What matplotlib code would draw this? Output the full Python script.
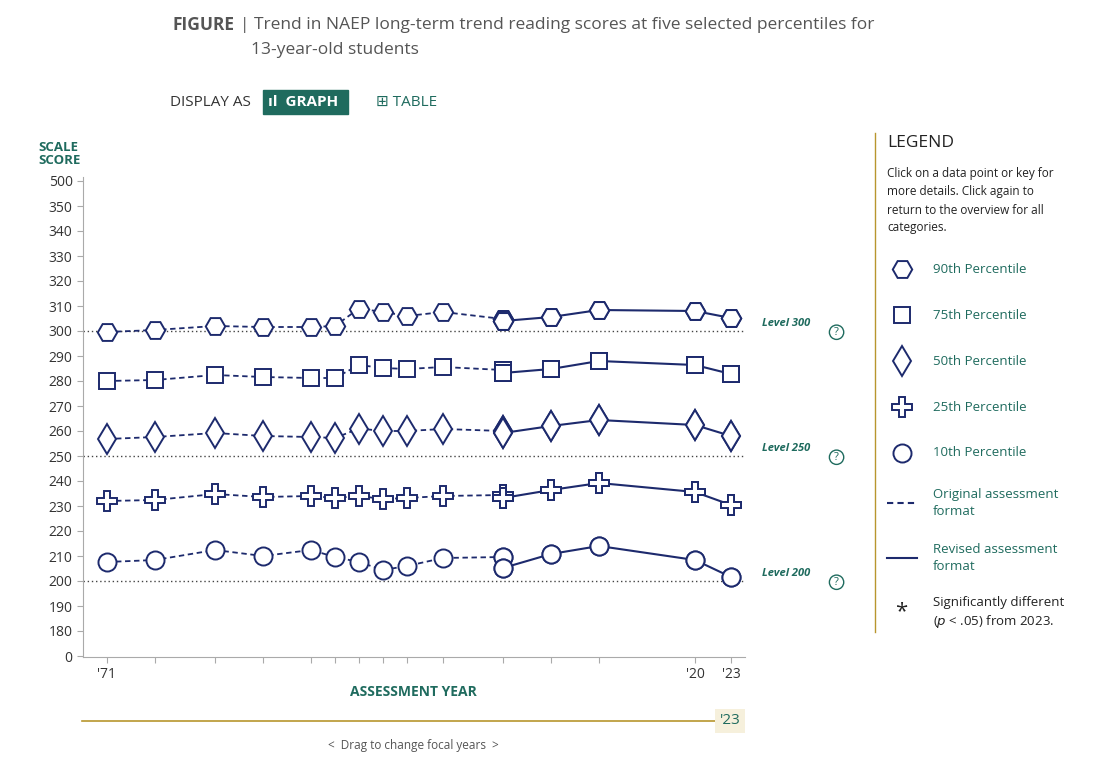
import matplotlib.pyplot as plt
from matplotlib.lines import Line2D

plt.rcParams['font.family'] = ['Open Sans', 'DejaVu Sans']

years = [1971, 1975, 1980, 1984, 1988, 1990, 1992, 1994, 1996, 1999, 2004, 2004, 2008, 2012, 2020, 2023]
n_orig = 11  # first 11 points are the original format, the rest revised
p90 = [299.6, 300.4, 302, 301.6, 301.6, 302, 309, 307.6, 306, 307.6, 304.8, 304, 305.6, 308.4, 308, 305.2]
p75 = [280, 280.4, 282.4, 281.6, 281.2, 281.2, 286.4, 285.2, 284.8, 285.6, 284.4, 283.2, 284.8, 288, 286.4, 282.8]
p50 = [256.8, 257.6, 259.2, 258, 257.6, 257.2, 261, 260, 260, 260.8, 260, 259.2, 262, 264.4, 262.4, 258]
p25 = [232, 232.4, 234.8, 233.6, 234, 233.2, 234, 232.8, 233.2, 234, 234.4, 233.2, 236.4, 239.2, 235.6, 230.4]
p10 = [207.6, 208.4, 212.4, 210, 212.4, 209.6, 207.6, 204.4, 206, 209.2, 209.6, 205.2, 210.8, 214, 208.4, 201.6]
series = [(p90, 'H', 14), (p75, 's', 12), (p50, 'd', 15), (p25, 'P', 15), (p10, 'o', 13)]
tick_years = [1971, 1975, 1980, 1984, 1988, 1990, 1992, 1994, 1996, 1999, 2004, 2008, 2012, 2020, 2023]
yticks = list(range(180, 351, 10))

navy = '#1d2a6d'
teal = '#1f6b5e'
W, H = 1102, 767
fig = plt.figure(figsize=(W / 100, H / 100), dpi=100)

def fx(p): return p / W
def fy(p): return 1 - p / H

ax = fig.add_axes([fx(83), fy(657), fx(745 - 83), (657 - 177) / H])
ax.set_xlim(1969, 2024.17)
ax.set_ylim(169.6, 361.6)
for lvl in (200, 250, 300):
    ax.axhline(lvl, color='#444', lw=1, ls=(0, (1, 2)))
for vals, m, ms in series:
    ax.plot(years[:n_orig], vals[:n_orig], color=navy, ls=(0, (3, 2)), lw=1.3,
            marker=m, ms=ms, mfc='white', mec=navy, mew=1.4)
    ax.plot(years[n_orig - 1:], vals[n_orig - 1:], color=navy, lw=1.5,
            marker=m, ms=ms, mfc='white', mec=navy, mew=1.4)
    ax.plot(years[n_orig:], vals[n_orig:], ls='none',
            marker=m, ms=ms, mfc='white', mec=navy, mew=1.4)
ax.set_yticks([170] + yticks + [360])
ax.set_yticklabels(['0'] + [str(v) for v in yticks] + ['500'], fontsize=10, color='#333')
ax.set_xticks(tick_years)
ax.set_xticklabels(["'71" if y == 1971 else ("'20" if y == 2020 else ("'23" if y == 2023 else ''))
                    for y in tick_years], fontsize=10, color='#333')
ax.tick_params(length=4, color='#aaa')
for s in ('top', 'right'):
    ax.spines[s].set_visible(False)
ax.spines['left'].set_color('#aaa')
ax.spines['bottom'].set_color('#aaa')
for lvl, lab in ((300, 'Level 300'), (250, 'Level 250'), (200, 'Level 200')):
    ax.text(2029.6, lvl + 0.8, lab, fontsize=8, style='italic', weight='bold', color=teal,
            ha='right', va='bottom', clip_on=False)
    ax.text(2031.8, lvl - 0.5, '?', fontsize=8, color=teal, ha='center', va='center', clip_on=False,
            bbox=dict(boxstyle='circle,pad=0.15', fc='white', ec=teal))

fig.text(fx(172), fy(25), 'FIGURE', fontsize=12.5, weight='bold', color='#555', va='center')
fig.text(fx(240), fy(25), '| Trend in NAEP long-term trend reading scores at five selected percentiles for',
         fontsize=12.5, color='#555', va='center')
fig.text(fx(251), fy(50), '13-year-old students', fontsize=12.5, color='#555', va='center')
fig.text(fx(170), fy(102), 'DISPLAY AS', fontsize=11, color='#333', va='center')
fig.text(fx(268), fy(102), 'ıl  GRAPH ', fontsize=11, weight='bold', color='white', va='center',
         bbox=dict(boxstyle='square,pad=0.35', fc=teal, ec=teal))
fig.text(fx(376), fy(102), '⊞ TABLE', fontsize=11, color=teal, va='center')
fig.text(fx(38), fy(154), 'SCALE\nSCORE', fontsize=9.5, weight='bold', color=teal, va='center', linespacing=1.0)
fig.text(fx(350), fy(692), 'ASSESSMENT YEAR', fontsize=10, weight='bold', color=teal, va='center')

fig.add_artist(Line2D([fx(875), fx(875)], [fy(133), fy(632)], color='#b8962e', lw=1))
fig.add_artist(Line2D([fx(82), fx(715)], [fy(721), fy(721)], color='#b8962e', lw=1.2))
fig.text(fx(730), fy(721), "'23", fontsize=11, color=teal, ha='center', va='center',
         bbox=dict(boxstyle='square,pad=0.3', fc='#f6f0dc', ec='none'))
fig.text(fx(413), fy(745), '<  Drag to change focal years  >', fontsize=8.5, color='#555', ha='center', va='center')

fig.text(fx(887), fy(143), 'LEGEND', fontsize=12.5, color='#222', va='center')
fig.text(fx(887), fy(201), 'Click on a data point or key for\nmore details. Click again to\nreturn to the overview for all\ncategories.',
         fontsize=8.5, color='#222', va='center', linespacing=1.5)
labels = ['90th Percentile', '75th Percentile', '50th Percentile', '25th Percentile', '10th Percentile']
for i, ((vals, m, ms), lab) in enumerate(zip(series, labels)):
    yy = 269 + 46 * i
    fig.add_artist(Line2D([fx(902)], [fy(yy)], marker=m, ms=ms, mfc='white', mec=navy, mew=1.4))
    fig.text(fx(933), fy(yy), lab, fontsize=9.5, color=teal, va='center')
fig.add_artist(Line2D([fx(887), fx(917)], [fy(503), fy(503)], color=navy, lw=1.5, ls=(0, (3, 2))))
fig.text(fx(933), fy(503), 'Original assessment\nformat', fontsize=9.5, color=teal, va='center', linespacing=1.4)
fig.add_artist(Line2D([fx(887), fx(917)], [fy(558), fy(558)], color=navy, lw=1.5))
fig.text(fx(933), fy(558), 'Revised assessment\nformat', fontsize=9.5, color=teal, va='center', linespacing=1.4)
fig.text(fx(901), fy(612), '*', fontsize=16, color='#222', ha='center', va='center')
fig.text(fx(933), fy(613), 'Significantly different\n($p$ < .05) from 2023.', fontsize=9.5, color='#222',
         va='center', linespacing=1.4)

fig.savefig('out.png', dpi=100)
